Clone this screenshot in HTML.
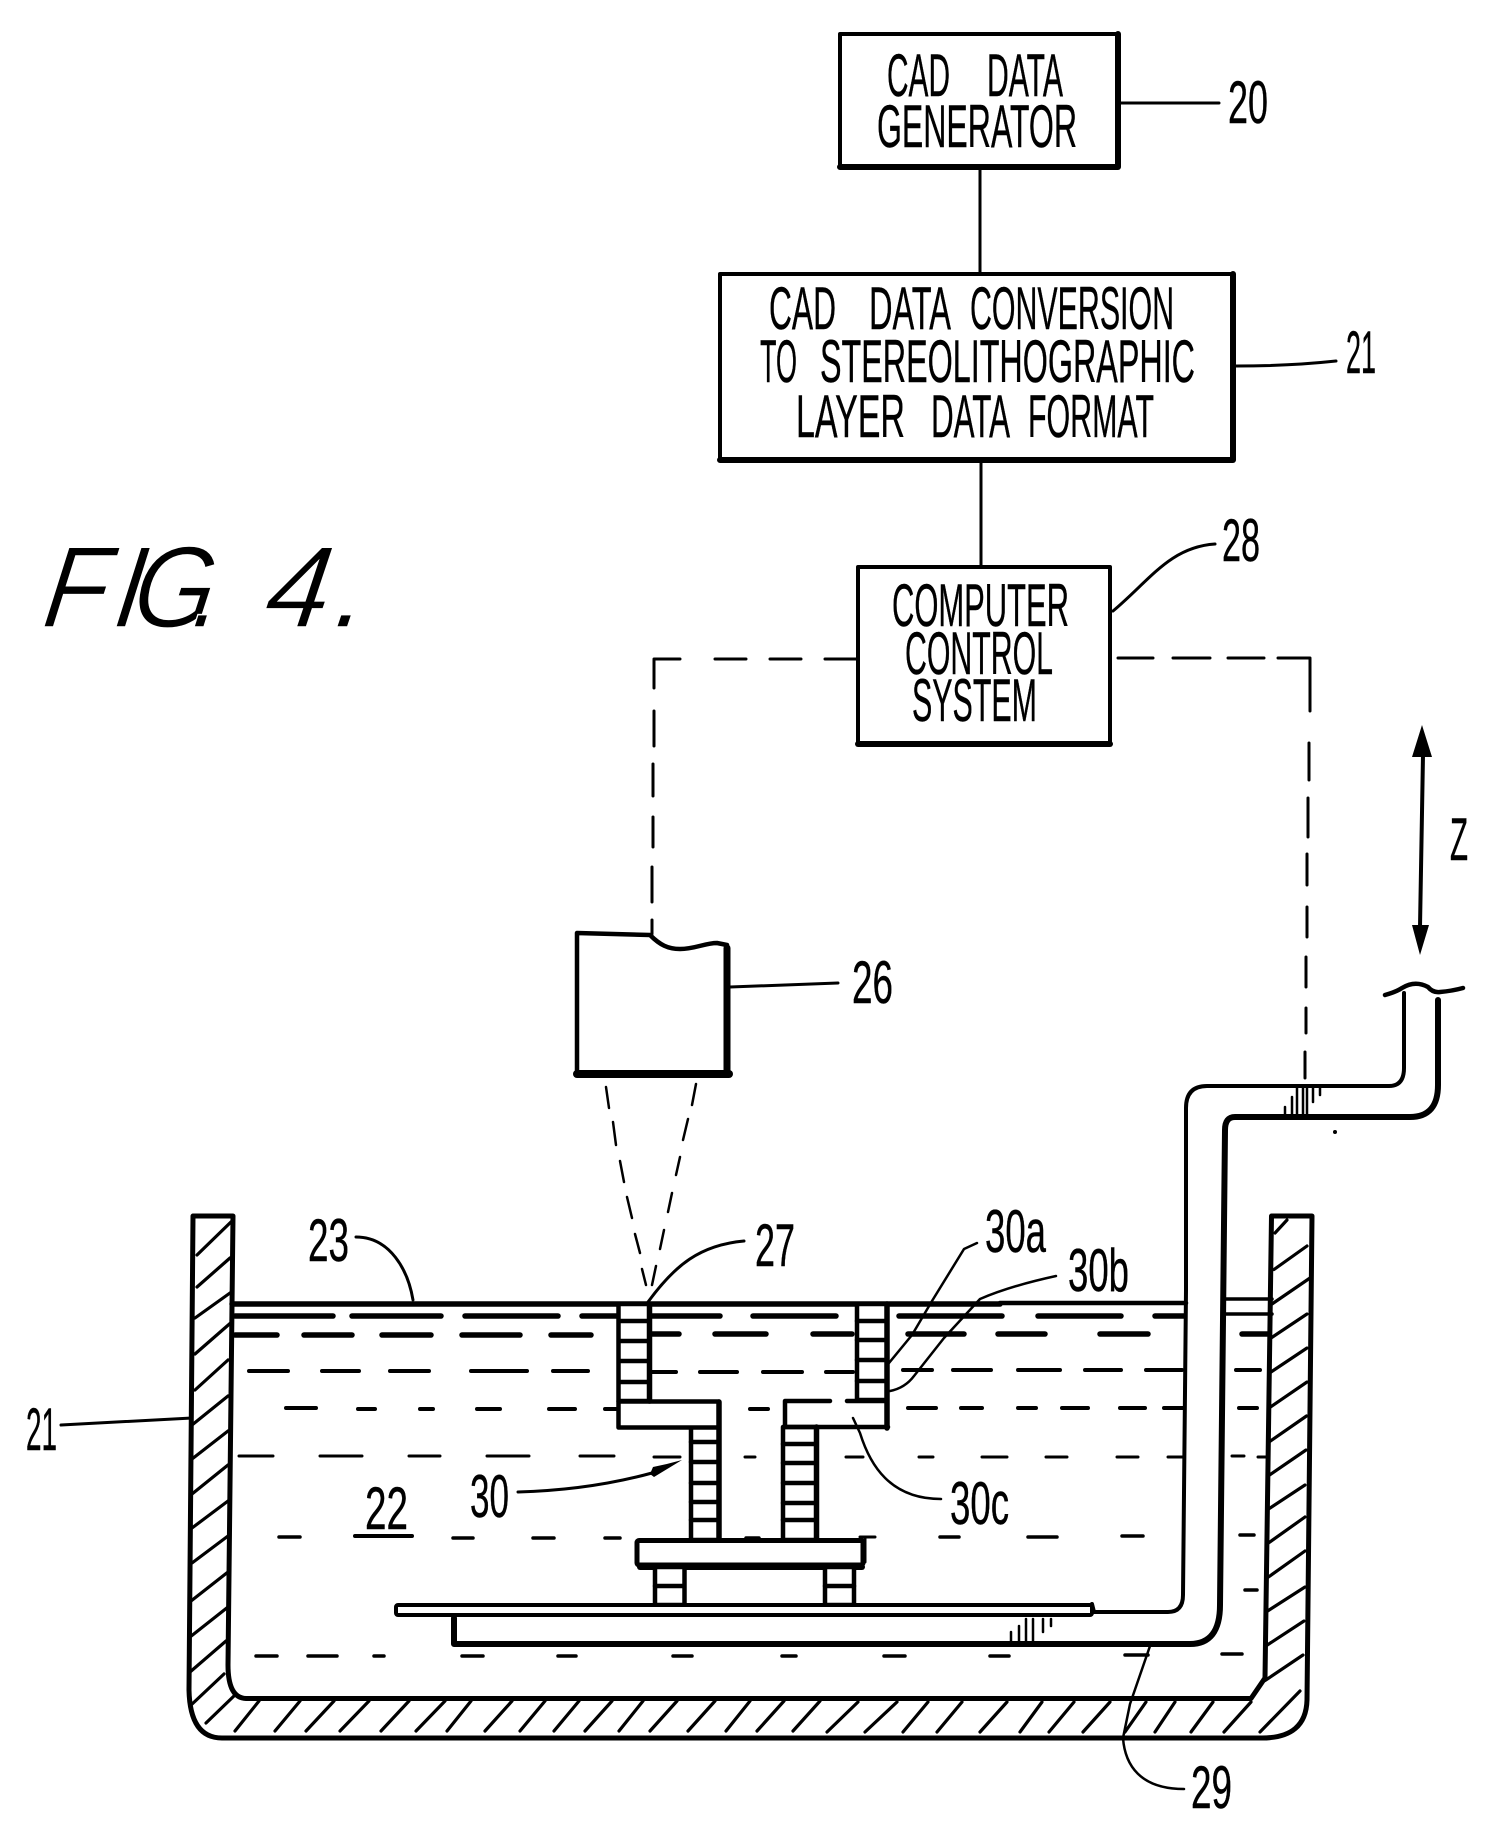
<!DOCTYPE html>
<html><head><meta charset="utf-8"><style>
html,body{margin:0;padding:0;background:#fff}
svg{display:block}
text{font-family:"Liberation Sans",sans-serif;fill:#000}
.l{font-size:60px;stroke:#000;stroke-width:.4px}
.n{font-size:60px;stroke:#000;stroke-width:.4px}
.f{font-size:116px;font-style:italic;stroke:#fff;stroke-width:1.5px}
</style></head><body>
<svg width="1504" height="1848" viewBox="0 0 1504 1848" xmlns="http://www.w3.org/2000/svg">
<g fill="none" stroke="#000" stroke-linecap="round" stroke-linejoin="round">

<!-- liquid dashes -->
<path stroke-width="5.5" d="M235,1316H333M352,1316H441M465,1316H558M582,1316H619M652,1316H720M753,1316H836M899,1316H1002M1038,1316H1121M1155,1316H1184"/>
<path stroke-width="5.5" d="M235,1335H277M304,1335H352M382,1335H431M462,1335H520M551,1335H591M652,1334H679M715,1334H766M813,1334H852M908,1334H964M998,1334H1045M1100,1334H1148M1242,1334H1269"/>
<path stroke-width="4" d="M249,1371H288M322,1371H359M390,1371H429M471,1371H527M553,1371H588M652,1372H676M700,1372H737M763,1372H802M826,1372H853M903,1370H932M953,1370H991M1018,1370H1060M1085,1370H1121M1146,1370H1182M1236,1370H1260"/>
<path stroke-width="4" d="M286,1408H316M358,1409H375M420,1409H433M477,1409H500M549,1409H575M605,1409H616M750,1409H768M908,1408H936M961,1408H982M1018,1408H1036M1062,1408H1088M1120,1408H1145M1164,1408H1184M1239,1408H1257"/>
<path stroke-width="3" d="M239,1456H273M320,1456H362M409,1456H440M487,1456H529M580,1456H614M654,1457H680M745,1457H755M846,1457H863M919,1457H933M982,1457H1007M1046,1457H1067M1117,1457H1138M1168,1457H1184M1232,1456H1244M1258,1457H1269"/>
<path stroke-width="3.5" d="M279,1537H300M453,1538H473M533,1538H554M605,1538H620M746,1538H759M940,1537H959M1028,1537H1057M1122,1536H1143M1240,1535H1254M1245,1590H1257"/>
<path stroke-width="3.5" d="M256,1656H277M308,1656H337M374,1656H384M462,1656H483M558,1656H576M673,1656H692M782,1656H796M884,1656H905M990,1656H1009M1125,1655H1148M1222,1654H1242"/>

<!-- tank -->
<path stroke-width="5" d="M193,1216L189,1690Q190,1738 222,1738L1262,1738Q1306,1738 1307,1700L1312,1216L1271.5,1216L1265,1678L1251,1698.5L246,1698.5Q228,1698 228,1665L233,1216Z"/>
<path stroke-width="3.2" d="M197,1255L233,1220M197,1287L230,1258M195,1318L230,1293M195,1354L230,1323.5M195,1390L228,1360M192,1425L228,1396M192,1459L228,1431M192,1494L228,1465M192,1528L228,1501M192,1563L228,1536M191,1601L228,1572M190,1637L228,1607M190,1672L226,1641M190,1706L224,1674M206,1723L235,1695"/>
<path stroke-width="3.2" d="M235,1731L259,1701M275,1731L300,1701M306,1731L334,1701M340,1731L369,1701M381,1731L409,1701M416,1731L445,1701M447,1731L471,1701M485,1731L512,1701M520,1731L545,1701M554,1731L579,1701M585,1731L612,1701M619,1731L643,1701M650,1731L677,1701M688,1731L715,1701M726,1731L750,1701M757,1731L784,1701M793,1731L820,1701M827,1732L858,1702M865,1732L897,1702M903,1732L928,1702M937,1732L962,1702M980,1732L1007,1702M1020,1732L1042,1702M1049,1732L1074,1702M1083,1732L1110,1702M1125,1732L1146,1702M1155,1732L1175,1702M1191,1732L1213,1702M1224,1732L1251,1702M1260,1732L1300,1691"/>
<path stroke-width="3.2" d="M1275,1233L1287,1220M1274,1269.5L1307,1246M1272,1304L1310,1278M1271,1338L1307,1314M1271,1372L1307,1348M1269,1408L1307,1382M1269,1442L1306.5,1416M1268,1476L1306,1450M1267,1510L1305,1485M1267,1544L1305,1517M1267,1578L1305,1551M1266,1612L1305,1587M1265,1646.5L1304,1621M1265,1680.6L1303,1655"/>

<!-- surface -->
<path stroke-width="5.5" d="M232,1304H1000"/>
<path stroke-width="4.5" d="M1000,1303H1186"/>
<path stroke-width="3.5" d="M1224,1299H1272M1224,1314H1272"/>

<!-- part: columns -->
<g fill="#fff" stroke-width="4.5">
<rect x="618.5" y="1304" width="31" height="97"/>
<rect x="857" y="1304" width="30" height="96"/>
<rect x="691" y="1427" width="28" height="113"/>
<rect x="783" y="1427" width="33.5" height="113"/>
<rect x="618.5" y="1401.5" width="100.5" height="26"/>
</g>
<path stroke-width="5.5" d="M649.5,1304V1401M887,1304V1428M719,1402V1540M816.5,1427V1540"/>
<path stroke-width="4.5" d="M619,1321H649M619,1341H649M619,1361H649M619,1382H649M857,1321H887M857,1340H887M857,1360H887M857,1381H887M691,1442H719M691,1462H719M691,1483H719M691,1502H719M691,1520H719M783,1444H816M783,1463H816M783,1483H816M783,1503H816M783,1520H816"/>
<path stroke-width="4.5" d="M830,1401H785V1427M847,1401H887M785,1427H888"/>
<rect x="637" y="1540.5" width="226" height="24.5" rx="2" fill="#fff" stroke-width="5"/>
<path stroke-width="3" d="M860,1537H875M865,1537V1562"/>
<path stroke-width="6" d="M640,1567H862"/>
<rect x="655" y="1567" width="29.5" height="38" fill="#fff" stroke-width="4.5"/>
<rect x="825" y="1567" width="29" height="38" fill="#fff" stroke-width="4.5"/>
<path stroke-width="4.5" d="M655,1586H684M825,1586H854"/>

<!-- plates and pipe -->
<rect x="396" y="1605" width="696" height="10" rx="2" fill="#fff" stroke-width="4"/>
<path stroke-width="4" d="M1404,993V1068Q1404,1086 1389,1086H1207Q1186,1086 1186,1108V1290L1183,1595Q1183,1612 1168,1612H1094L1092,1604"/>
<path stroke-width="6" d="M1438,1000V1085Q1438,1117 1410,1117H1235Q1225,1117 1225,1130L1220,1605Q1220,1644 1190,1644H454V1618"/>
<path stroke-width="4.5" d="M1385,995Q1396,992 1402,988Q1415,980 1428,987Q1433,993 1440,992Q1452,991 1463,988"/>
<path stroke-width="2.5" d="M1011,1644V1632M1019,1644V1626M1026,1644V1619M1033,1644V1619M1043,1632V1619M1051,1626V1619M1285,1116V1107M1292,1116V1097M1297,1116V1088M1303,1116V1088M1307,1116V1088M1313,1087V1102M1320,1087V1095"/>
<circle cx="1335" cy="1132" r="2" fill="#000" stroke="none"/>

<!-- blocks -->
<rect x="840" y="34" width="278" height="133" stroke-width="4"/>
<path stroke-width="6" d="M1118,34V167H840"/>
<rect x="720" y="274" width="513" height="186" stroke-width="4"/>
<path stroke-width="6" d="M1233,274V460H720"/>
<rect x="858" y="567" width="252" height="177" stroke-width="4"/>
<path stroke-width="6" d="M858,744H1110"/>
<path stroke-width="3" d="M980,167V272M981,460V566"/>

<!-- leaders -->
<path stroke-width="3" d="M1120,103H1219M1236,366Q1290,366 1336,361M1113,611C1150,580 1170,547 1215,544M730,987L838,983M61,1425L192,1418"/>
<path stroke-width="3" d="M356,1237C390,1237 408,1270 413,1300M744,1241C700,1245 675,1265 648,1302M518,1492Q590,1490 652,1473"/>
<path stroke-width="2.5" d="M977,1243L964,1249L932,1301L912,1335L889,1363M1056,1276Q1010,1286 980,1299L944,1338L914,1376Q905,1388 890,1391M941,1499C890,1499 870,1465 860,1433L853,1418M1184,1789C1140,1789 1125,1765 1123,1738L1130,1704L1150,1646"/>
<path fill="#000" stroke="none" d="M682,1460Q668,1464 653,1467L650,1474L654,1477Z"/>

<!-- dashed control lines -->
<path stroke-width="3" d="M858,659H825M801,659H770M746,659H715M680,659H654V688M654,711V746M653,764V796M653,817V847M652,867V902M652,920V934"/>
<path stroke-width="3" d="M1118,658H1153M1173,658H1210M1228,658H1264M1278,658H1310V672M1310,672V711M1309,743V780M1308,798V837M1307,854V885M1307,907V937M1306,957V987M1306,1008V1033M1305,1052V1078"/>

<!-- scanner -->
<path stroke-width="4.5" d="M577,933L650,935C660,945 668,949 680,949C695,949 705,943 717,943L727,945V1074H577Z"/>
<path stroke-width="7" d="M727,948V1074"/>
<path stroke-width="8" d="M577,1074H729"/>
<path stroke-width="2.5" d="M606,1087L609,1108M613,1122L616,1145M620,1161L624,1182M627,1197L632,1218M635,1234L640,1253M642,1269L646,1285M696,1084L692,1105M688,1119L683,1140M680,1157L676,1175M672,1193L668,1212M664,1230L660,1249M656,1266L652,1285"/>

<!-- Z arrow -->
<path stroke-width="4" d="M1423,755L1420,927"/>
<path fill="#000" stroke="none" d="M1422,725L1432,757H1412ZM1420,955L1412,925H1429Z"/>
</g>

<!-- labels -->
<text class="l" x="887" y="96" textLength="63" lengthAdjust="spacingAndGlyphs">CAD</text>
<text class="l" x="987" y="96" textLength="76" lengthAdjust="spacingAndGlyphs">DATA</text>
<text class="l" x="877" y="147" textLength="200" lengthAdjust="spacingAndGlyphs">GENERATOR</text>
<text class="l" x="769" y="329" textLength="67" lengthAdjust="spacingAndGlyphs">CAD</text>
<text class="l" x="869" y="329" textLength="82" lengthAdjust="spacingAndGlyphs">DATA</text>
<text class="l" x="970" y="329" textLength="204" lengthAdjust="spacingAndGlyphs">CONVERSION</text>
<text class="l" x="760" y="382" textLength="37" lengthAdjust="spacingAndGlyphs">TO</text>
<text class="l" x="820" y="382" textLength="375" lengthAdjust="spacingAndGlyphs">STEREOLITHOGRAPHIC</text>
<text class="l" x="796" y="437" textLength="109" lengthAdjust="spacingAndGlyphs">LAYER</text>
<text class="l" x="931" y="437" textLength="79" lengthAdjust="spacingAndGlyphs">DATA</text>
<text class="l" x="1028" y="437" textLength="126" lengthAdjust="spacingAndGlyphs">FORMAT</text>
<text class="l" x="892" y="626" textLength="177" lengthAdjust="spacingAndGlyphs">COMPUTER</text>
<text class="l" x="905" y="674" textLength="148" lengthAdjust="spacingAndGlyphs">CONTROL</text>
<text class="l" x="912" y="721" textLength="125" lengthAdjust="spacingAndGlyphs">SYSTEM</text>

<text class="n" x="1228" y="123" textLength="40" lengthAdjust="spacingAndGlyphs">20</text>
<text class="n" x="1346" y="373" textLength="30" lengthAdjust="spacingAndGlyphs">21</text>
<text class="n" x="1222" y="561" textLength="38" lengthAdjust="spacingAndGlyphs">28</text>
<text class="n" x="852" y="1003" textLength="41" lengthAdjust="spacingAndGlyphs">26</text>
<text class="n" x="1450" y="860" textLength="18" lengthAdjust="spacingAndGlyphs">Z</text>
<text class="n" x="308" y="1261" textLength="41" lengthAdjust="spacingAndGlyphs">23</text>
<text class="n" x="755" y="1266" textLength="40" lengthAdjust="spacingAndGlyphs">27</text>
<text class="n" x="26" y="1450" textLength="31" lengthAdjust="spacingAndGlyphs">21</text>
<text class="n" x="365" y="1529" textLength="43" lengthAdjust="spacingAndGlyphs">22</text>
<text class="n" x="470" y="1517" textLength="39" lengthAdjust="spacingAndGlyphs">30</text>
<text class="n" x="985" y="1252" textLength="61" lengthAdjust="spacingAndGlyphs">30a</text>
<text class="n" x="1068" y="1291" textLength="61" lengthAdjust="spacingAndGlyphs">30b</text>
<text class="n" x="950" y="1524" textLength="59" lengthAdjust="spacingAndGlyphs">30c</text>
<text class="n" x="1191" y="1808" textLength="41" lengthAdjust="spacingAndGlyphs">29</text>

<text class="f" transform="translate(0,627) skewX(-8) scale(.9,1)" x="45 124 144 211" y="0">FIG.</text>
<text class="f" transform="translate(0,627) skewX(-8) scale(1,1)" x="262 332" y="0">4.</text>
<path d="M355,1536H412" stroke="#000" stroke-width="4" stroke-linecap="round"/>
</svg>
</body></html>
